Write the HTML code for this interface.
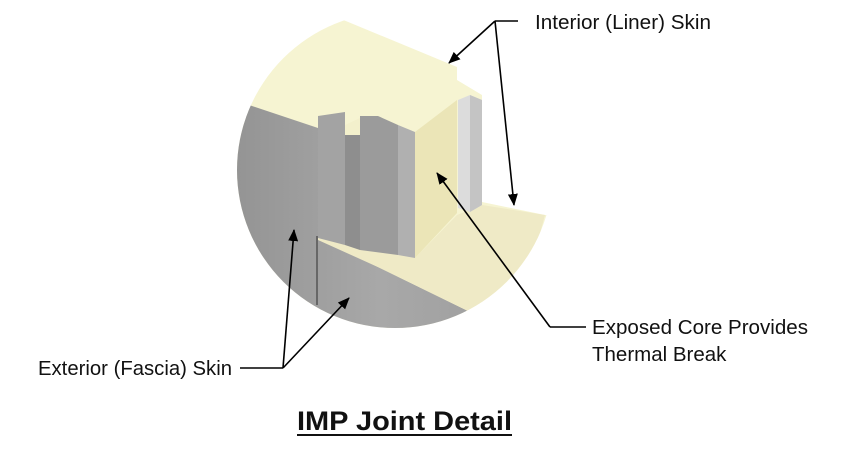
<!DOCTYPE html>
<html><head><style>
html,body{margin:0;padding:0;background:#fff;}
svg{display:block;}
text{font-family:"Liberation Sans",Arial,sans-serif;fill:#111;}
</style></head><body>
<svg width="850" height="458" viewBox="0 0 850 458" xmlns="http://www.w3.org/2000/svg">
<defs>
<clipPath id="c"><circle cx="395" cy="170" r="158"/></clipPath>
<marker id="a" markerWidth="12" markerHeight="10" refX="11" refY="5" orient="auto" markerUnits="userSpaceOnUse">
<path d="M0,0 L12,5 L0,10 Z" fill="#000"/></marker>
<linearGradient id="g1" x1="0" y1="0" x2="1" y2="0">
<stop offset="0" stop-color="#8f8f8f"/><stop offset="0.5" stop-color="#a8a8a8"/><stop offset="1" stop-color="#9a9a9a"/></linearGradient>
</defs>
<g clip-path="url(#c)">
<polygon points="341,19 457,67 457,80 482,95 482,202 545,215 560,215 560,340 200,340 200,19" fill="#f6f4d2"/>
<polygon points="200,95 243,103 318,128 318,238 380,268 470,312 560,340 200,340" fill="url(#g1)"/>
<polygon points="318,233 415,258 457,215 482,205 545,215 530,270 470,312 380,268 318,240" fill="#efeac6"/>
<polygon points="318,116 345,112 345,245 318,238" fill="#a3a3a3"/>
<polygon points="345,125 360,118 360,135 345,135" fill="#f3f0cc"/>
<polygon points="345,135 360,135 360,250 345,245" fill="#8e8e8e"/>
<polygon points="360,116 378,116 398,125 398,255 360,250" fill="#9b9b9b"/>
<polygon points="398,125 415,132 415,258 398,255" fill="#b0b0b0"/>
<polygon points="415,132 457,100 457,213 415,258" fill="#ebe5b7"/>
<polygon points="458,100 470,95 482,100 482,205 470,212 458,208" fill="#dcdcdc"/>
<polygon points="470,95 482,100 482,205 470,212" fill="#c4c4c4"/>
<line x1="317" y1="236" x2="317" y2="305" stroke="#555" stroke-width="1.5"/>
</g>
<g stroke="#000" stroke-width="1.6" fill="none">
<polyline points="518,21 495,21"/>
<line x1="495" y1="21" x2="449" y2="63" marker-end="url(#a)"/>
<line x1="495" y1="21" x2="514" y2="205" marker-end="url(#a)"/>
<polyline points="586,327 550,327"/>
<line x1="550" y1="327" x2="437" y2="173" marker-end="url(#a)"/>
<polyline points="240,368 283,368"/>
<line x1="283" y1="368" x2="294" y2="230" marker-end="url(#a)"/>
<line x1="283" y1="368" x2="349" y2="298" marker-end="url(#a)"/>
</g>
<text x="535" y="29" font-size="20.5" textLength="176" lengthAdjust="spacingAndGlyphs">Interior (Liner) Skin</text>
<text x="592" y="334" font-size="20.5" textLength="216" lengthAdjust="spacingAndGlyphs">Exposed Core Provides</text>
<text x="592" y="361" font-size="20.5">Thermal Break</text>
<text x="38" y="375" font-size="20.5" textLength="194" lengthAdjust="spacingAndGlyphs">Exterior (Fascia) Skin</text>
<text x="297" y="430" font-size="27" font-weight="bold" textLength="215" lengthAdjust="spacingAndGlyphs">IMP Joint Detail</text>
<line x1="297" y1="435" x2="512" y2="435" stroke="#111" stroke-width="2"/>
</svg>
</body></html>
